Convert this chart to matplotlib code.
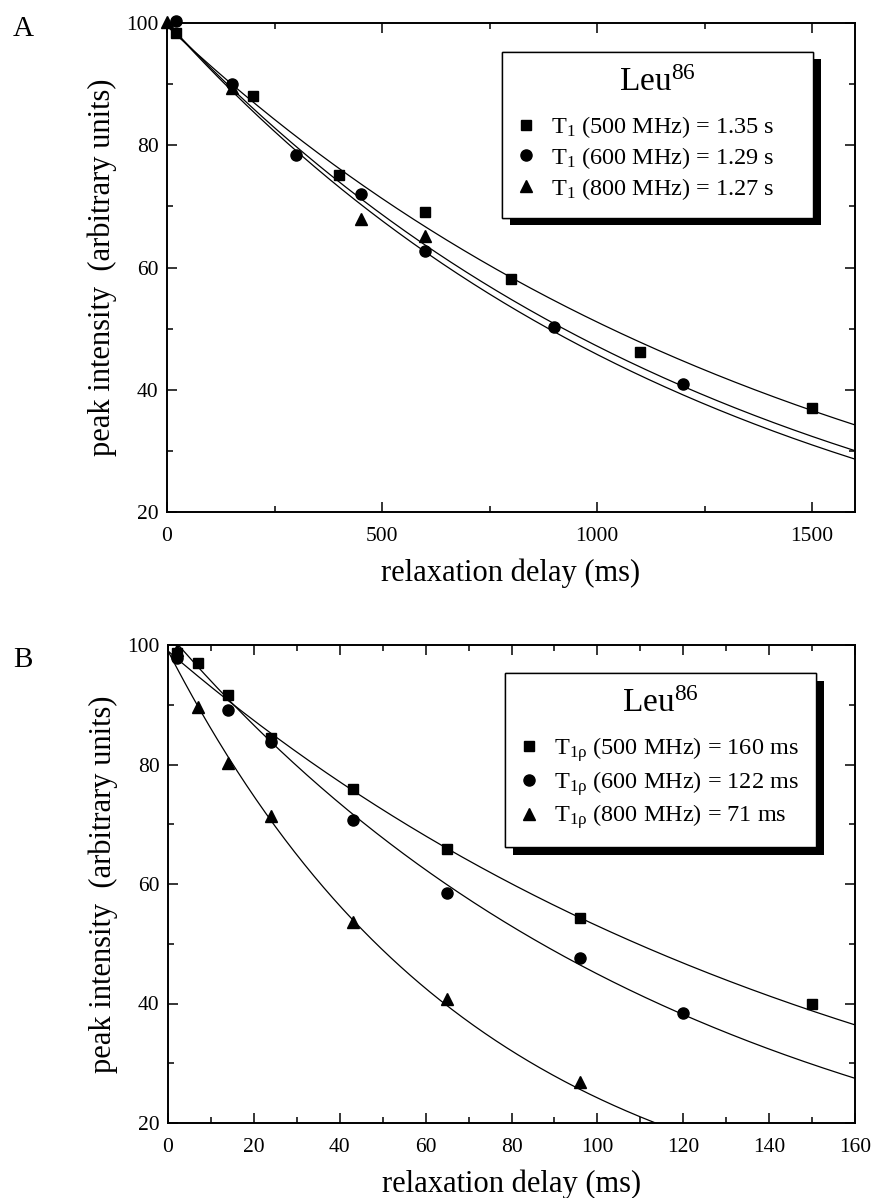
import matplotlib
matplotlib.use("Agg")
import matplotlib.pyplot as plt
import matplotlib.patheffects as pe
from matplotlib.ticker import MultipleLocator
import numpy as np

plt.rcParams['font.family'] = ['Liberation Serif', 'DejaVu Serif']
plt.rcParams['mathtext.fontset'] = 'custom'
plt.rcParams['mathtext.rm'] = 'Liberation Serif'
plt.rcParams['mathtext.it'] = 'Liberation Serif:italic'
plt.rcParams['mathtext.default'] = 'rm'

# panel A: T1 relaxation, delay in ms
a_t_500 = [20, 200, 400, 600, 800, 1100, 1500]
a_y_500 = [98.4, 88.1, 75.2, 69.0, 58.2, 46.2, 37.0]
a_t_600 = [20, 150, 300, 450, 600, 900, 1200]
a_y_600 = [100.3, 90.1, 78.4, 72.0, 62.7, 50.3, 41.0]
a_t_800 = [0, 150, 450, 600]
a_y_800 = [100.2, 89.4, 68.0, 65.1]
# fitted curves as drawn (amplitude, decay in ms)
a_amp = [99.5, 100.0, 100.0]
a_tau = [1500, 1330, 1280]
a_labels = ['T$_1$ (500 MHz) = 1.35 s',
            'T$_1$ (600 MHz) = 1.29 s',
            'T$_1$ (800 MHz) = 1.27 s']

# panel B: T1rho relaxation, delay in ms
b_t_500 = [2, 7, 14, 24, 43, 65, 96, 150]
b_y_500 = [98.7, 97.0, 91.7, 84.5, 75.9, 65.9, 54.3, 40.0]
b_t_600 = [2, 14, 24, 43, 65, 96, 120]
b_y_600 = [97.8, 89.2, 83.8, 70.7, 58.5, 47.6, 38.4]
b_t_800 = [2, 7, 14, 24, 43, 65, 96]
b_y_800 = [99.2, 89.6, 80.2, 71.3, 53.6, 40.8, 26.8]
b_amp = [99.0, 102.0, 99.0]
b_tau = [160, 122, 71]
b_labels = ['T$_{\\mathrm{1ρ}}$ (500 MHz) = 160 ms',
            'T$_{\\mathrm{1ρ}}$ (600 MHz) = 122 ms',
            'T$_{\\mathrm{1ρ}}$ (800 MHz) = 71 ms']

markers = ['s', 'o', '^']
msizes = [7, 8, 8.5]

fig = plt.figure(figsize=(8.85, 11.98), dpi=100)
axA = fig.add_axes([167/885, 1 - 512/1198, 688/885, 489/1198])
axB = fig.add_axes([168/885, 1 - 1123/1198, 687/885, 478/1198])


def draw_panel(ax, pts, amps, taus, labels, xmax, xmajor, xminor, legbox):
    t = np.linspace(0, xmax, 500)
    handles = []
    for (tx, ty), amp, tau, m, ms, lab in zip(pts, amps, taus, markers, msizes, labels):
        ax.plot(t, amp * np.exp(-t / tau), color='black', lw=0.9)
        h, = ax.plot(tx, ty, linestyle='none', marker=m, ms=ms, color='black',
                     clip_on=False, zorder=4, label=lab)
        handles.append(h)
    ax.set_xlim(0, xmax)
    ax.set_ylim(20, 100)
    ax.xaxis.set_major_locator(MultipleLocator(xmajor))
    ax.xaxis.set_minor_locator(MultipleLocator(xminor))
    ax.yaxis.set_major_locator(MultipleLocator(20))
    ax.yaxis.set_minor_locator(MultipleLocator(10))
    ax.tick_params(which='both', direction='in', top=True, right=True, width=1.1)
    ax.tick_params(which='major', length=7)
    ax.tick_params(which='minor', length=4.5)
    ax.tick_params(axis='both', labelsize=15.5)
    ax.tick_params(axis='x', pad=11)
    ax.tick_params(axis='y', pad=6)
    for s in ax.spines.values():
        s.set_linewidth(1.4)
    ax.set_xlabel('relaxation delay (ms)', fontsize=22, labelpad=9)
    ax.set_ylabel('peak intensity  (arbitrary units)', fontsize=22, labelpad=7)
    leg = ax.legend(handles=handles, loc='upper left', bbox_to_anchor=legbox,
                    mode='expand', borderaxespad=0, fontsize=17.5,
                    title='Leu$^{86}$', title_fontsize=24,
                    frameon=True, fancybox=False, framealpha=1,
                    edgecolor='black', handlelength=0.7, handletextpad=0.68,
                    borderpad=0.65, labelspacing=0.2)
    # extra room between the title and the entries
    leg._legend_box.sep = 11.5
    leg.get_frame().set_linewidth(1.0)
    leg.get_frame().set_path_effects([
        pe.withSimplePatchShadow(offset=(6, -5.5), shadow_rgbFace='black', alpha=1),
        pe.Normal()])
    return leg


draw_panel(axA, [(a_t_500, a_y_500), (a_t_600, a_y_600), (a_t_800, a_y_800)],
           a_amp, a_tau, a_labels, 1600, 500, 250,
           (335/688, 0.3, 311/688, 0.941 - 0.3))
draw_panel(axB, [(b_t_500, b_y_500), (b_t_600, b_y_600), (b_t_800, b_y_800)],
           b_amp, b_tau, b_labels, 160, 20, 10,
           (337/687, 0.3, 311/687, (1123 - 673)/478 - 0.3))

fig.text(23/885, 1 - 29/1198, 'A', fontsize=21, ha='center', va='center')
fig.text(23/885, 1 - 660/1198, 'B', fontsize=21, ha='center', va='center')

fig.savefig('out.png', dpi=100)
